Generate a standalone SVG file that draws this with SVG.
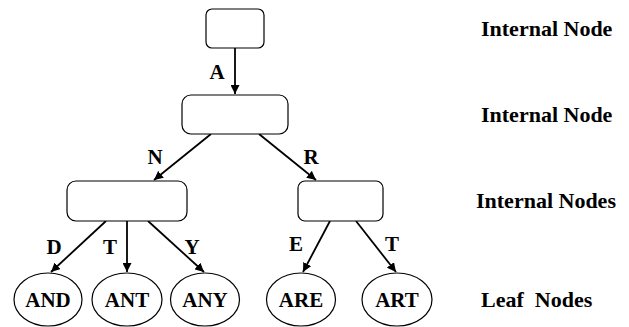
<svg xmlns="http://www.w3.org/2000/svg" width="629" height="327" viewBox="0 0 629 327">
<style>
.box{fill:#fff;stroke:#000;stroke-width:1.2}
.leaf{fill:#fff;stroke:#000;stroke-width:1.2}
.edge{stroke:#000;stroke-width:1.8;fill:none;marker-end:url(#ah)}
text{font-family:"Liberation Serif","Times New Roman",serif;font-weight:bold;fill:#000}
.lbl{font-size:21px;text-anchor:middle}
.nt{font-size:21px;text-anchor:middle}
.side{font-size:22px}
</style>
<defs>
<marker id="ah" viewBox="0 0 10 10" refX="10" refY="5" markerWidth="5" markerHeight="5" orient="auto" markerUnits="strokeWidth">
<path d="M0,0 L10,5 L0,10 z" fill="#000"/>
</marker>
</defs>
<g id="connectors">
<line class="edge" x1="235" y1="48" x2="235" y2="94"/>
<line class="edge" x1="211" y1="134" x2="154" y2="180"/>
<line class="edge" x1="259" y1="134" x2="316" y2="180"/>
<line class="edge" x1="106" y1="221" x2="51" y2="272"/>
<line class="edge" x1="127" y1="221" x2="127" y2="272"/>
<line class="edge" x1="148" y1="221" x2="204" y2="272"/>
<line class="edge" x1="330" y1="221" x2="303" y2="272"/>
<line class="edge" x1="356" y1="221" x2="396" y2="272"/>
<text class="lbl" x="217" y="79">A</text>
<text class="lbl" x="155" y="164">N</text>
<text class="lbl" x="311" y="164">R</text>
<text class="lbl" x="54" y="254">D</text>
<text class="lbl" x="110" y="254">T</text>
<text class="lbl" x="192" y="254">Y</text>
<text class="lbl" x="296" y="251">E</text>
<text class="lbl" x="392" y="251">T</text>
</g>
<g id="root"><rect class="box" x="206" y="9" width="58" height="39" rx="6"/></g>
<g id="nodeA"><rect class="box" x="182" y="95" width="106" height="39" rx="9"/></g>
<g id="nodeAN"><rect class="box" x="67" y="181" width="120" height="40" rx="9"/></g>
<g id="nodeAR"><rect class="box" x="298" y="181" width="85" height="40" rx="7"/></g>
<g id="leafAND"><ellipse class="leaf" cx="48" cy="299.5" rx="34" ry="26.5"/><text class="nt" x="48" y="307">AND</text></g>
<g id="leafANT"><ellipse class="leaf" cx="127" cy="299.5" rx="35" ry="26.5"/><text class="nt" x="127" y="307">ANT</text></g>
<g id="leafANY"><ellipse class="leaf" cx="205" cy="299.5" rx="34.5" ry="26.5"/><text class="nt" x="205" y="307">ANY</text></g>
<g id="leafARE"><ellipse class="leaf" cx="301" cy="299.5" rx="34.5" ry="26.5"/><text class="nt" x="301" y="307">ARE</text></g>
<g id="leafART"><ellipse class="leaf" cx="397" cy="299.5" rx="35" ry="26.5"/><text class="nt" x="397" y="307">ART</text></g>
<g id="levels">
<text class="side" x="481" y="36">Internal Node</text>
<text class="side" x="481" y="121.5">Internal Node</text>
<text class="side" x="476" y="208">Internal Nodes</text>
<text class="side" x="481" y="307" xml:space="preserve">Leaf  Nodes</text>
</g>
</svg>
